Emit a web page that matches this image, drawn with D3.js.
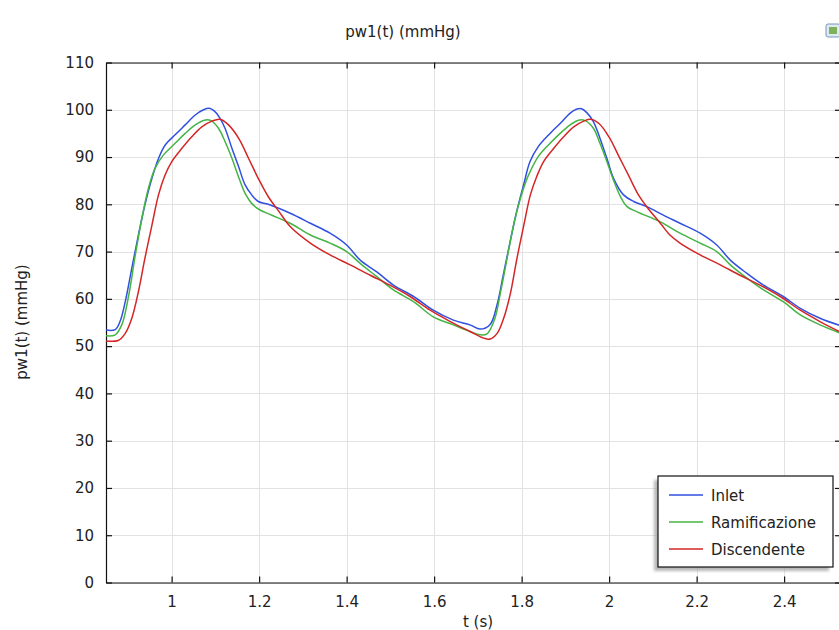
<!DOCTYPE html>
<html>
<head>
<meta charset="utf-8">
<script src="https://cdn.jsdelivr.net/npm/d3@7/dist/d3.min.js"></script>
<style>
  html, body { margin: 0; padding: 0; background: #fff; }
  svg { display: block; }
  text { font-family: "DejaVu Sans", sans-serif; fill: #222; }
</style>
</head>
<body>
<svg id="chart" width="839" height="630"></svg>
<script>
// Pressure traces pw1(t) at three locations, time in s, pressure in mmHg
const inletT = [0.850, 0.871, 0.882, 0.894, 0.909, 0.924, 0.939, 0.955, 0.970, 0.985, 1.008, 1.031, 1.054, 1.073, 1.086, 1.098, 1.110, 1.122, 1.138, 1.153, 1.168, 1.183, 1.198, 1.221, 1.271, 1.317, 1.362, 1.400, 1.431, 1.469, 1.507, 1.553, 1.598, 1.644, 1.682, 1.705, 1.728, 1.744, 1.758, 1.774, 1.789, 1.805, 1.819, 1.838, 1.865, 1.888, 1.911, 1.925, 1.937, 1.949, 1.964, 1.979, 1.995, 2.010, 2.033, 2.056, 2.086, 2.124, 2.162, 2.208, 2.246, 2.277, 2.315, 2.353, 2.398, 2.437, 2.482, 2.530];
const inletP = [53.4, 53.5, 55.2, 59.4, 66.5, 73.5, 79.9, 85.5, 89.7, 92.5, 94.7, 96.8, 98.9, 100.0, 100.3, 99.7, 98.3, 96.1, 91.8, 88.0, 84.1, 82.0, 80.6, 80.0, 78.1, 76.0, 73.9, 71.4, 68.2, 65.7, 62.9, 60.5, 57.6, 55.5, 54.5, 53.6, 54.6, 58.8, 65.0, 72.2, 78.6, 84.3, 89.0, 92.2, 95.0, 97.1, 99.3, 100.1, 100.2, 99.4, 97.5, 94.0, 89.7, 85.5, 82.0, 80.6, 79.5, 77.7, 76.0, 73.9, 71.4, 68.2, 65.4, 62.9, 60.5, 58.0, 55.9, 54.3];

const ramT = [0.850, 0.871, 0.886, 0.902, 0.917, 0.932, 0.947, 0.962, 0.981, 1.008, 1.031, 1.054, 1.075, 1.090, 1.107, 1.122, 1.138, 1.153, 1.168, 1.183, 1.202, 1.229, 1.271, 1.317, 1.362, 1.400, 1.431, 1.469, 1.507, 1.553, 1.598, 1.644, 1.682, 1.705, 1.721, 1.738, 1.753, 1.768, 1.783, 1.799, 1.814, 1.838, 1.865, 1.888, 1.911, 1.930, 1.945, 1.964, 1.979, 1.995, 2.010, 2.026, 2.041, 2.064, 2.117, 2.162, 2.208, 2.246, 2.277, 2.315, 2.353, 2.398, 2.437, 2.482, 2.530];
const ramP = [52.2, 52.4, 54.5, 60.8, 69.3, 77.0, 83.4, 87.6, 90.4, 92.9, 95.0, 96.8, 97.8, 97.7, 96.1, 93.3, 89.7, 85.8, 82.3, 80.2, 78.8, 77.7, 76.0, 73.5, 71.8, 70.0, 67.5, 64.7, 61.9, 59.4, 56.2, 54.5, 53.1, 52.4, 52.6, 55.6, 62.0, 69.2, 76.2, 81.8, 85.8, 90.1, 92.9, 95.0, 96.8, 97.8, 97.7, 96.1, 92.9, 89.0, 85.1, 81.6, 79.5, 78.4, 76.3, 73.9, 71.8, 70.0, 67.2, 64.4, 61.9, 59.4, 56.6, 54.5, 52.7];

const discT = [0.850, 0.878, 0.894, 0.909, 0.924, 0.939, 0.955, 0.970, 0.985, 1.000, 1.023, 1.046, 1.069, 1.092, 1.111, 1.130, 1.153, 1.176, 1.198, 1.221, 1.246, 1.271, 1.317, 1.362, 1.408, 1.454, 1.499, 1.545, 1.591, 1.637, 1.682, 1.713, 1.728, 1.744, 1.759, 1.774, 1.789, 1.805, 1.820, 1.835, 1.850, 1.873, 1.896, 1.919, 1.942, 1.958, 1.978, 2.000, 2.022, 2.045, 2.067, 2.090, 2.117, 2.139, 2.162, 2.208, 2.254, 2.299, 2.345, 2.391, 2.437, 2.482, 2.530];
const discP = [51.1, 51.2, 52.7, 55.9, 61.5, 68.6, 75.6, 82.0, 86.2, 89.0, 91.8, 94.3, 96.4, 97.6, 98.0, 96.8, 94.0, 89.7, 85.5, 81.6, 78.4, 75.3, 71.8, 69.3, 67.2, 65.0, 62.9, 60.5, 57.6, 55.2, 53.1, 51.7, 51.5, 52.7, 55.9, 61.0, 68.4, 75.6, 82.0, 86.0, 89.0, 91.8, 94.3, 96.4, 97.6, 98.0, 97.0, 94.2, 90.2, 86.0, 82.0, 79.0, 76.0, 73.5, 71.8, 69.3, 67.2, 65.0, 62.9, 60.5, 57.6, 55.2, 52.9];

const seriesNames = ["Inlet", "Ramificazione", "Discendente"];
const seriesColors = ["#3050e0", "#44b444", "#d42626"];

const xTicks = [1, 1.2, 1.4, 1.6, 1.8, 2, 2.2, 2.4];
const yTicks = [0, 10, 20, 30, 40, 50, 60, 70, 80, 90, 100, 110];

const titleText = "pw1(t) (mmHg)";
const yLabelText = "pw1(t) (mmHg)";
const xLabelText = "t (s)";

const series = [
  { name: seriesNames[0], color: seriesColors[0], pts: inletT.map((t, i) => [t, inletP[i]]) },
  { name: seriesNames[1], color: seriesColors[1], pts: ramT.map((t, i) => [t, ramP[i]]) },
  { name: seriesNames[2], color: seriesColors[2], pts: discT.map((t, i) => [t, discP[i]]) }
];

const svg = d3.select("#chart");
const plot = { left: 106, top: 62.5, right: 841, bottom: 582.5 };

const x = d3.scaleLinear().domain([0.85, 2.53]).range([plot.left, plot.right]);
const y = d3.scaleLinear().domain([0, 110]).range([plot.bottom, plot.top]);

const defs = svg.append("defs");
defs.append("clipPath").attr("id", "plotClip")
  .append("rect").attr("x", plot.left).attr("y", plot.top)
  .attr("width", plot.right - plot.left).attr("height", plot.bottom - plot.top);
const blur = defs.append("filter").attr("id", "shadowBlur")
  .attr("x", "-20%").attr("y", "-20%").attr("width", "140%").attr("height", "140%");
blur.append("feGaussianBlur").attr("stdDeviation", 1.5);

// grid
const grid = svg.append("g").attr("stroke", "#e2e2e2").attr("stroke-width", 1);
grid.selectAll("line.gx").data(xTicks).join("line")
  .attr("x1", d => Math.round(x(d)) + 0.5).attr("x2", d => Math.round(x(d)) + 0.5)
  .attr("y1", plot.top).attr("y2", plot.bottom);
grid.selectAll("line.gy").data(yTicks).join("line")
  .attr("y1", d => Math.round(y(d)) + 0.5).attr("y2", d => Math.round(y(d)) + 0.5)
  .attr("x1", plot.left).attr("x2", plot.right);

// axes with inward ticks
const tickLen = 6;
const fmtX = d3.format("~g");
const bottomAxis = svg.append("g").attr("transform", `translate(0,${plot.bottom})`)
  .call(d3.axisBottom(x).tickValues(xTicks).tickFormat(fmtX).tickSizeInner(-tickLen).tickSizeOuter(0).tickPadding(14));
const topAxis = svg.append("g").attr("transform", `translate(0,${plot.top})`)
  .call(d3.axisTop(x).tickValues(xTicks).tickFormat("").tickSizeInner(-tickLen).tickSizeOuter(0));
const leftAxis = svg.append("g").attr("transform", `translate(${plot.left},0)`)
  .call(d3.axisLeft(y).tickValues(yTicks).tickSizeInner(-tickLen).tickSizeOuter(0).tickPadding(12));
const rightAxis = svg.append("g").attr("transform", `translate(${plot.right},0)`)
  .call(d3.axisRight(y).tickValues(yTicks).tickFormat("").tickSizeInner(-tickLen).tickSizeOuter(0));

[bottomAxis, topAxis, leftAxis, rightAxis].forEach(g => {
  g.selectAll("path.domain").attr("stroke", "#111").attr("stroke-width", 1.2);
  g.selectAll(".tick line").attr("stroke", "#111").attr("stroke-width", 1.2);
  g.selectAll(".tick text").attr("font-family", "DejaVu Sans, sans-serif")
    .attr("font-size", 15).attr("fill", "#222");
});

// curves
const line = d3.line().x(d => x(d[0])).y(d => y(d[1])).curve(d3.curveCatmullRom.alpha(0.5));
svg.append("g").attr("clip-path", "url(#plotClip)")
  .selectAll("path").data(series).join("path")
  .attr("d", d => line(d.pts))
  .attr("fill", "none")
  .attr("stroke", d => d.color)
  .attr("stroke-width", 1.5)
  .attr("stroke-linejoin", "round");

// titles
svg.append("text").attr("x", 403).attr("y", 37).attr("text-anchor", "middle")
  .attr("font-size", 15).text(titleText);
svg.append("text").attr("transform", "translate(27,322) rotate(-90)")
  .attr("text-anchor", "middle").attr("font-size", 15).text(yLabelText);
svg.append("text").attr("x", 478).attr("y", 627).attr("text-anchor", "middle")
  .attr("font-size", 15).text(xLabelText);

// legend
const lg = { x: 658, y: 476, w: 175, h: 91 };
svg.append("rect").attr("x", lg.x - 4).attr("y", lg.y + 4).attr("width", lg.w).attr("height", lg.h)
  .attr("fill", "#9a9a9a").attr("opacity", 0.7).attr("filter", "url(#shadowBlur)");
svg.append("rect").attr("x", lg.x).attr("y", lg.y).attr("width", lg.w).attr("height", lg.h)
  .attr("fill", "#fff").attr("stroke", "#111").attr("stroke-width", 1.2);
const rows = svg.append("g").selectAll("g").data(series).join("g")
  .attr("transform", (d, i) => `translate(0,${495 + i * 27})`);
rows.append("line").attr("x1", 669).attr("x2", 703).attr("y1", 0).attr("y2", 0)
  .attr("stroke", d => d.color).attr("stroke-width", 1.6);
rows.append("text").attr("x", 711).attr("y", 5.5).attr("font-size", 15).text(d => d.name);

// small toolbar icon in the corner
const icon = svg.append("g").attr("transform", "translate(826,24)");
icon.append("rect").attr("width", 14).attr("height", 13).attr("rx", 2)
  .attr("fill", "#dfe9f2").attr("stroke", "#7a98b8");
icon.append("rect").attr("x", 3).attr("y", 3).attr("width", 8).attr("height", 7)
  .attr("fill", "#7fb05a");
</script>
</body>
</html>
